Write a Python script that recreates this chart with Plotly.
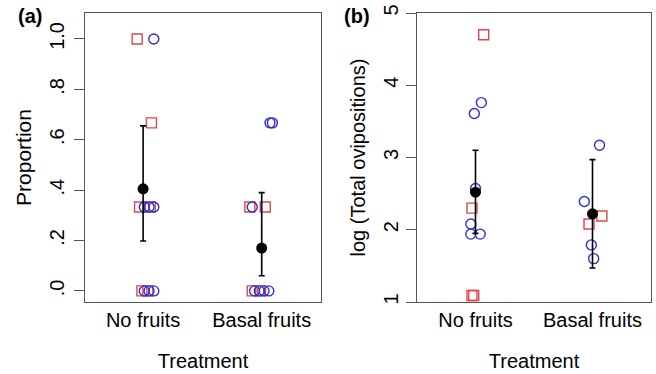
import plotly.graph_objects as go

categories = ["No fruits", "Basal fruits"]

# Panel (a): proportion
a_red_x = [0.95, 1.07, 0.97, 1.06, 0.99, 1.04, 1.90, 2.03, 1.92, 1.99]
a_red_y = [1.0, 0.667, 0.333, 0.333, 0.0, 0.0, 0.333, 0.333, 0.0, 0.0]
a_blue_x = [1.09, 1.01, 1.05, 1.09, 1.01, 1.05, 1.09, 2.07, 2.09, 1.92, 1.94, 1.98, 2.02, 2.06]
a_blue_y = [1.0, 0.333, 0.333, 0.333, 0.0, 0.0, 0.0, 0.667, 0.667, 0.333, 0.0, 0.0, 0.0, 0.0]
a_mean = [0.405, 0.17]
a_upper = [0.655, 0.39]
a_lower = [0.198, 0.06]

# Panel (b): log(total ovipositions)
b_red_x = [1.07, 0.97, 0.97, 0.985, 2.08, 1.97]
b_red_y = [4.70, 2.30, 1.09, 1.09, 2.19, 2.08]
b_blue_x = [1.05, 0.99, 1.0, 0.96, 0.96, 1.04, 2.06, 1.93, 1.99, 2.01]
b_blue_y = [3.76, 3.61, 2.57, 2.08, 1.94, 1.94, 3.17, 2.39, 1.79, 1.60]
b_mean = [2.52, 2.22]
b_upper = [3.10, 2.97]
b_lower = [1.95, 1.47]

a_ticks = [0, 0.2, 0.4, 0.6, 0.8, 1.0]
a_ticktext = [".0", ".2", ".4", ".6", ".8", "1.0"]
b_ticks = [1, 2, 3, 4, 5]
b_ticktext = ["1", "2", "3", "4", "5"]

RED = "#e0474c"
BLUE = "#2f2fd0"
FONT = "Liberation Sans, Arial, sans-serif"

fig = go.Figure()

def add_panel(xref, yref, rx, ry, bx, by, mean, up, lo):
    fig.add_trace(go.Scatter(x=rx, y=ry, mode="markers", xaxis=xref, yaxis=yref,
                             marker=dict(symbol="square-open", size=10, color=RED, line=dict(width=1.4, color=RED)),
                             showlegend=False))
    fig.add_trace(go.Scatter(x=bx, y=by, mode="markers", xaxis=xref, yaxis=yref,
                             marker=dict(symbol="circle-open", size=10, color=BLUE, line=dict(width=1.4, color=BLUE)),
                             showlegend=False))
    fig.add_trace(go.Scatter(x=[1, 2], y=mean, mode="markers", xaxis=xref, yaxis=yref,
                             marker=dict(symbol="circle", size=11, color="black"),
                             error_y=dict(type="data", symmetric=False,
                                          array=[u - m for u, m in zip(up, mean)],
                                          arrayminus=[m - l for m, l in zip(mean, lo)],
                                          color="black", thickness=1.6, width=3),
                             showlegend=False))

add_panel("x", "y", a_red_x, a_red_y, a_blue_x, a_blue_y, a_mean, a_upper, a_lower)
add_panel("x2", "y2", b_red_x, b_red_y, b_blue_x, b_blue_y, b_mean, b_upper, b_lower)

axis_common = dict(showline=True, mirror=True, linecolor="#555", linewidth=1.3, automargin=False,
                   showgrid=False, zeroline=False, tickfont=dict(size=20, color="black", family=FONT))

fig.update_layout(
    template="none",
    width=656, height=374, margin=dict(l=0, r=0, t=0, b=0),
    paper_bgcolor="white", plot_bgcolor="white",
    font=dict(family=FONT, color="black"),
    xaxis=dict(domain=[85/656, 321/656], range=[0.51, 2.5], tickvals=[1, 2], ticktext=categories,
               ticks="", title=dict(text="Treatment", font=dict(size=20), standoff=23), **axis_common),
    yaxis=dict(domain=[72/374, 361/374], range=[-0.044, 1.103], tickvals=a_ticks, ticktext=a_ticktext,
               ticks="outside", ticklen=10, tickcolor="#555", tickangle=-90, ticklabelstandoff=2,
               title=dict(text="Proportion", font=dict(size=21), standoff=8), **axis_common),
    xaxis2=dict(domain=[417/656, 651/656], range=[0.5, 2.5], tickvals=[1, 2], ticktext=categories,
                ticks="", anchor="y2", title=dict(text="Treatment", font=dict(size=20), standoff=23), **axis_common),
    yaxis2=dict(domain=[72/374, 361/374], range=[1, 5], tickvals=b_ticks, ticktext=b_ticktext, anchor="x2",
                ticks="outside", ticklen=10, tickcolor="#555", tickangle=-90, ticklabelstandoff=0,
                title=dict(text="log (Total ovipositions)", font=dict(size=20), standoff=8), **axis_common),
    annotations=[
        dict(text="<b>(a)</b>", x=30/656, y=1 - 16/374, xref="paper", yref="paper",
             showarrow=False, font=dict(size=20, color="black"), xanchor="center", yanchor="middle"),
        dict(text="<b>(b)</b>", x=357/656, y=1 - 16/374, xref="paper", yref="paper",
             showarrow=False, font=dict(size=20, color="black"), xanchor="center", yanchor="middle"),
    ],
)

fig.write_html("out.html", config={"displayModeBar": False},
               post_script="document.body.style.margin='0';document.body.style.overflow='hidden';")
